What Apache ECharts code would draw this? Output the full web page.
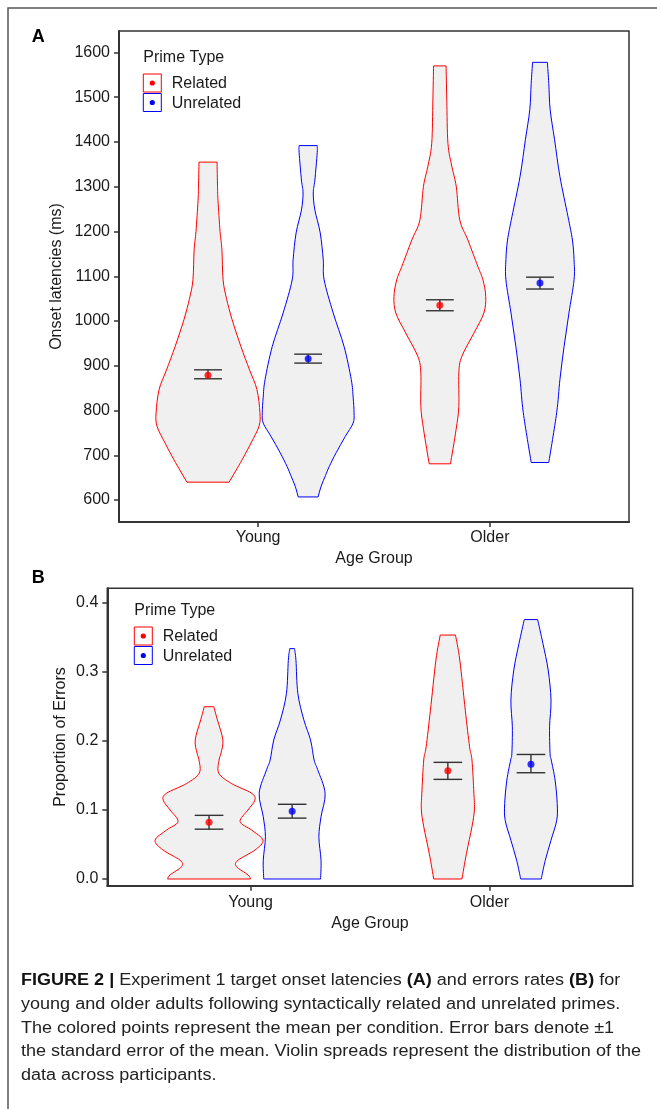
<!DOCTYPE html>
<html>
<head>
<meta charset="utf-8">
<script src="https://cdn.jsdelivr.net/npm/echarts@6/dist/echarts.min.js"></script>
<style>
html,body{margin:0;padding:0;background:#fff;}
#chart{width:657px;height:1109px;}
</style>
</head>
<body>
<div id="chart"></div>
<script>
// ---------- DATA ----------
const ageGroups = ['Young', 'Older'];
const primeTypes = ['Related', 'Unrelated'];
const ticksA = [600, 700, 800, 900, 1000, 1100, 1200, 1300, 1400, 1500, 1600];
const ticksB = [0, 0.1, 0.2, 0.3, 0.4];

// Violin profiles: [value, half-width (in category units)]
const violinA_YoungRelated = [[640,0.091],[690,0.147],[728,0.186],[765,0.220],[795,0.224],[847,0.211],[891,0.179],[943,0.142],[1003,0.104],[1050,0.080],[1092,0.065],[1159,0.060],[1200,0.052],[1270,0.043],[1300,0.041],[1355,0.039]];
const violinA_YoungUnrelated = [[607,0.043],[631,0.056],[655,0.075],[675,0.091],[706,0.121],[742,0.160],[772,0.194],[795,0.198],[830,0.194],[869,0.186],[943,0.155],[1018,0.108],[1092,0.069],[1137,0.065],[1197,0.052],[1248,0.029],[1286,0.022],[1315,0.029],[1376,0.039],[1392,0.039]];
const violinA_OlderRelated = [[681,0.046],[757,0.070],[809,0.082],[884,0.082],[921,0.095],[973,0.147],[1018,0.190],[1055,0.198],[1092,0.186],[1122,0.164],[1181,0.121],[1226,0.086],[1300,0.071],[1345,0.052],[1397,0.035],[1494,0.030],[1570,0.027]];
const violinA_OlderUnrelated = [[684,0.038],[795,0.072],[869,0.086],[943,0.104],[1018,0.125],[1092,0.147],[1137,0.147],[1181,0.140],[1233,0.121],[1323,0.086],[1405,0.063],[1472,0.044],[1531,0.038],[1578,0.032]];

const violinB_YoungRelated = [[0,0.174],[0.006,0.163],[0.018,0.115],[0.027,0.121],[0.042,0.193],[0.056,0.226],[0.0708,0.178],[0.083,0.130],[0.0997,0.163],[0.114,0.192],[0.124,0.178],[0.138,0.094],[0.153,0.041],[0.172,0.042],[0.1816,0.050],[0.201,0.058],[0.230,0.035],[0.249,0.020]];
const violinB_YoungUnrelated = [[0,0.119],[0.027,0.121],[0.061,0.112],[0.090,0.121],[0.124,0.138],[0.158,0.107],[0.172,0.092],[0.201,0.077],[0.230,0.049],[0.268,0.024],[0.316,0.016],[0.333,0.010]];
const violinB_OlderRelated = [[0,0.059],[0.037,0.078],[0.0756,0.101],[0.0997,0.111],[0.124,0.109],[0.172,0.101],[0.191,0.091],[0.244,0.073],[0.3165,0.050],[0.3526,0.032]];
const violinB_OlderUnrelated = [[0,0.043],[0.027,0.060],[0.056,0.084],[0.085,0.108],[0.109,0.110],[0.143,0.101],[0.172,0.085],[0.1816,0.080],[0.220,0.078],[0.2587,0.084],[0.302,0.072],[0.3406,0.050],[0.375,0.028]];

// Means and +/-1 SE, order: Young-Related, Young-Unrelated, Older-Related, Older-Unrelated
const meanA = [879, 916, 1035, 1085];
const seLoA = [871, 906, 1023, 1071.5];
const seHiA = [891, 926, 1047.5, 1098];
const meanB = [0.082, 0.098, 0.1565, 0.166];
const seLoB = [0.072, 0.088, 0.144, 0.1536];
const seHiB = [0.092, 0.108, 0.1686, 0.180];

// ---------- STYLE / LAYOUT ----------
const FONT = '"Liberation Sans", Arial, sans-serif';
const TXT = '#1a1a1a';
const COLORS = ['#ff0000', '#0000ff'];
const AX = '#333333';

const chart = echarts.init(document.getElementById('chart'), null, {renderer: 'canvas'});

const panels = [
  {grid: {left: 119, top: 31, width: 510, height: 491}, ymin: 551, ymax: 1648, ticks: ticksA,
   fmt: v => String(v), dodge: 0.216,
   violins: [violinA_YoungRelated, violinA_YoungUnrelated, violinA_OlderRelated, violinA_OlderUnrelated],
   mean: meanA, lo: seLoA, hi: seHiA},
  {grid: {left: 107.3, top: 588.3, width: 525.4, height: 297.4}, ymin: -0.0097, ymax: 0.4202, ticks: ticksB,
   fmt: v => v.toFixed(1), dodge: 0.174,
   violins: [violinB_YoungRelated, violinB_YoungUnrelated, violinB_OlderRelated, violinB_OlderUnrelated],
   mean: meanB, lo: seLoB, hi: seHiB}
];

// smooth open curve (Catmull-Rom -> cubic Bezier) through screen points, appended to path string
function curveSegs(pts) {
  let d = '';
  const n = pts.length;
  for (let i = 0; i < n - 1; i++) {
    const p0 = pts[Math.max(0, i - 1)], p1 = pts[i], p2 = pts[i + 1], p3 = pts[Math.min(n - 1, i + 2)];
    const c1x = p1[0] + (p2[0] - p0[0]) / 6, c1y = p1[1] + (p2[1] - p0[1]) / 6;
    const c2x = p2[0] - (p3[0] - p1[0]) / 6, c2y = p2[1] - (p3[1] - p1[1]) / 6;
    d += ' C' + c1x.toFixed(2) + ' ' + c1y.toFixed(2) + ' ' + c2x.toFixed(2) + ' ' + c2y.toFixed(2) + ' ' + p2[0].toFixed(2) + ' ' + p2[1].toFixed(2);
  }
  return d;
}

const grids = [], xAxes = [], yAxes = [], series = [];
const groupPos = ageGroups.map((g, i) => i + 1);

panels.forEach((p, pi) => {
  grids.push(Object.assign({show: true, borderColor: AX, borderWidth: 1.5, backgroundColor: '#fff'}, p.grid));
  xAxes.push({
    gridIndex: pi, type: 'value', min: 0.4, max: 2.6,
    axisLine: {show: true, onZero: false, lineStyle: {color: AX, width: 2}},
    axisTick: {show: true, customValues: groupPos, length: 5, lineStyle: {color: AX, width: 1.5}},
    axisLabel: {show: true, customValues: groupPos, formatter: v => ageGroups[Math.round(v) - 1],
      fontSize: 16, color: TXT, fontFamily: FONT, margin: pi === 0 ? 8 : 9},
    splitLine: {show: false}
  });
  yAxes.push({
    gridIndex: pi, type: 'value', min: p.ymin, max: p.ymax,
    axisLine: {show: true, onZero: false, lineStyle: {color: AX, width: 2}},
    axisTick: {show: true, customValues: p.ticks, length: 5, lineStyle: {color: AX, width: 1.5}},
    axisLabel: {show: true, customValues: p.ticks, formatter: p.fmt,
      fontSize: 16, color: TXT, fontFamily: FONT, margin: 9},
    splitLine: {show: false}
  });

  const centers = [];
  groupPos.forEach(gp => { primeTypes.forEach((t, ti) => { centers.push(gp + (ti === 0 ? -p.dodge : p.dodge)); }); });

  // violins
  p.violins.forEach((prof, k) => {
    const col = COLORS[k % 2];
    series.push({
      type: 'custom', xAxisIndex: pi, yAxisIndex: pi, silent: true, z: 2,
      data: [[centers[k], prof[0][0]]],
      renderItem: function (params, api) {
        const c = api.value(0);
        const right = prof.map(q => api.coord([c + q[1], q[0]]));
        const left = prof.slice().reverse().map(q => api.coord([c - q[1], q[0]]));
        let d = 'M' + right[0][0].toFixed(2) + ' ' + right[0][1].toFixed(2);
        d += curveSegs(right);
        d += ' L' + left[0][0].toFixed(2) + ' ' + left[0][1].toFixed(2);
        d += curveSegs(left);
        d += ' Z';
        return {type: 'path', shape: {pathData: d, layout: 'center'},
          style: {fill: '#f0f0f0', stroke: col, lineWidth: 1}};
      }
    });
  });

  // error bars
  series.push({
    type: 'custom', xAxisIndex: pi, yAxisIndex: pi, silent: true, z: 3,
    data: centers.map((c, k) => [c, p.lo[k], p.hi[k]]),
    renderItem: function (params, api) {
      const c = api.value(0), lo = api.value(1), hi = api.value(2);
      const a = api.coord([c, lo]), b = api.coord([c, hi]);
      const l1 = api.coord([c - 0.06, lo]), r1 = api.coord([c + 0.06, lo]);
      const l2 = api.coord([c - 0.06, hi]), r2 = api.coord([c + 0.06, hi]);
      const st = {stroke: AX, lineWidth: 1.4};
      return {type: 'group', children: [
        {type: 'line', shape: {x1: a[0], y1: a[1], x2: b[0], y2: b[1]}, style: st},
        {type: 'line', shape: {x1: l1[0], y1: l1[1], x2: r1[0], y2: r1[1]}, style: st},
        {type: 'line', shape: {x1: l2[0], y1: l2[1], x2: r2[0], y2: r2[1]}, style: st}
      ]};
    }
  });

  // means
  series.push({
    type: 'scatter', xAxisIndex: pi, yAxisIndex: pi, silent: true, z: 4,
    symbol: 'circle', symbolSize: 7,
    data: centers.map((c, k) => ({value: [c, p.mean[k]], itemStyle: {color: COLORS[k % 2]}}))
  });
});

// ---------- GRAPHICS (frame, labels, legends, caption) ----------
const graphics = [];
graphics.push({type: 'rect', shape: {x: 8, y: 8, width: 720, height: 1200}, style: {fill: 'none', stroke: '#555', lineWidth: 1.5}, silent: true, z: 0});

function txt(x, y, text, opts) {
  return Object.assign({type: 'text', x: x, y: y, silent: true, z: 10,
    style: Object.assign({text: text, fill: TXT, font: '16px ' + FONT, textAlign: 'left', textVerticalAlign: 'middle'}, opts || {})});
}
graphics.push(txt(31.7, 37.5, 'A', {font: 'bold 18px ' + FONT, fill: '#000'}));
graphics.push(txt(31.7, 578.5, 'B', {font: 'bold 18px ' + FONT, fill: '#000'}));

// axis titles
graphics.push(Object.assign(txt(57, 276.5, 'Onset latencies (ms)', {textAlign: 'center'}), {rotation: Math.PI / 2}));
graphics.push(Object.assign(txt(61, 737, 'Proportion of Errors', {textAlign: 'center'}), {rotation: Math.PI / 2}));
graphics.push(txt(374, 559, 'Age Group', {textAlign: 'center'}));
graphics.push(txt(370, 923.5, 'Age Group', {textAlign: 'center'}));

// legends
function legend(x, yTitle, yBox1) {
  graphics.push(txt(x, yTitle, 'Prime Type'));
  primeTypes.forEach((t, i) => {
    const by = yBox1 + i * 19.5;
    graphics.push({type: 'rect', shape: {x: x, y: by, width: 18, height: 18}, style: {fill: '#fff', stroke: COLORS[i], lineWidth: 1}, silent: true, z: 10});
    graphics.push({type: 'circle', shape: {cx: x + 9, cy: by + 9, r: 2.6}, style: {fill: COLORS[i]}, silent: true, z: 11});
    graphics.push(txt(x + 28.5, by + 10, t));
  });
}
legend(143.3, 57.5, 74);
legend(134.3, 611, 627);

// caption
const capLines = [
  '{b|FIGURE 2 |} Experiment 1 target onset latencies {b|(A)} and errors rates {b|(B)} for',
  'young and older adults following syntactically related and unrelated primes.',
  'The colored points represent the mean per condition. Error bars denote \u00B11',
  'the standard error of the mean. Violin spreads represent the distribution of the',
  'data across participants.'
];
const capFont = '16px ' + FONT;
const cvs = document.createElement('canvas').getContext('2d');
cvs.font = capFont;
const capScale = 620 / cvs.measureText(capLines[3]).width;
capLines.forEach((line, i) => {
  graphics.push({type: 'text', x: 21, y: 981 + i * 23.6, scaleX: capScale, silent: true, z: 10,
    style: {text: line, font: capFont, fill: '#222', textAlign: 'left', textVerticalAlign: 'middle',
      rich: {b: {fontWeight: 'bold', fontSize: 16, fontFamily: FONT, fill: '#111'}}}});
});

chart.setOption({
  animation: false,
  backgroundColor: '#fff',
  grid: grids, xAxis: xAxes, yAxis: yAxes, series: series,
  graphic: {elements: graphics}
});
</script>
</body>
</html>
